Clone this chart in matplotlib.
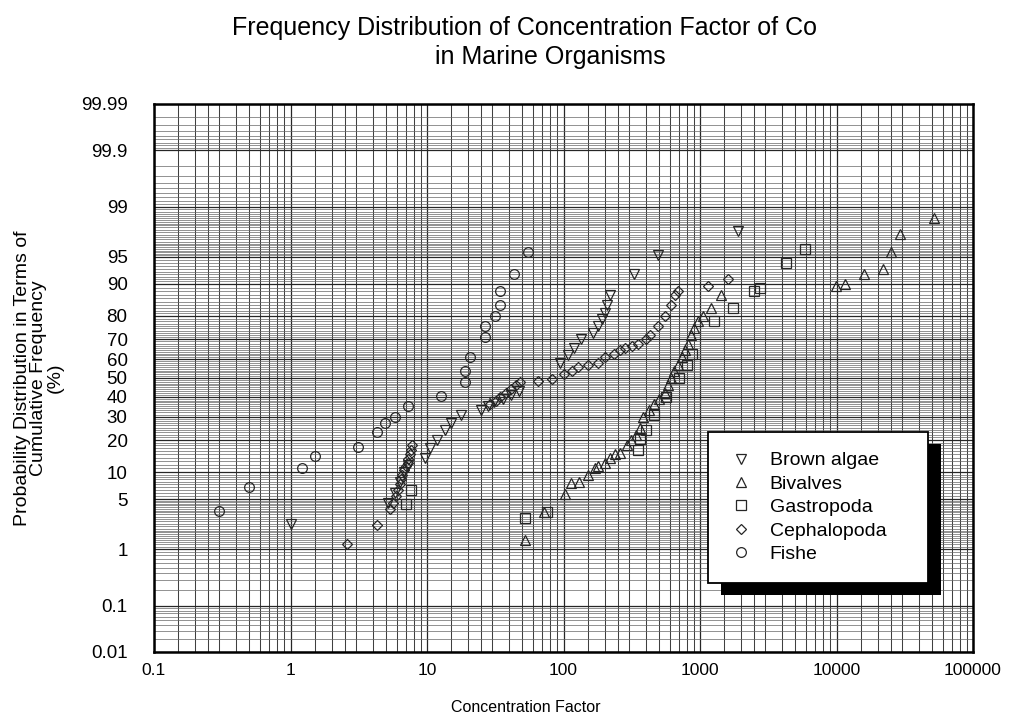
import math

import matplotlib
matplotlib.use('Agg')
import matplotlib.pyplot as plt
import numpy as np
from matplotlib.patches import Rectangle
from matplotlib.ticker import FixedLocator, NullFormatter

plt.rcParams['font.family'] = ['Liberation Sans', 'DejaVu Sans']

# concentration factor / cumulative frequency (%)
brown_cf = [1.0, 5.2, 5.8, 6.3, 6.8, 7.2, 9.6, 10.5, 11.9, 13.5, 15, 17.6,
            25, 28, 31, 36, 41, 47, 95, 107, 120, 135, 165, 178, 190, 200,
            210, 220, 330, 490, 1900]
brown_p = [2.4, 4.5, 6, 8, 10, 12, 14, 17, 20, 24, 27, 31,
           33, 35, 37, 39, 41, 43, 58, 62, 66, 70, 73, 76, 79, 81,
           84, 87, 92, 95.3, 97.7]

bivalve_cf = [52, 72, 103, 113, 130, 150, 170, 178, 200, 220, 240, 260, 290,
              310, 340, 365, 385, 420, 460, 500, 550, 580, 610, 650, 690, 740,
              780, 820, 860, 910, 960, 1050, 1200, 1420,
              9900, 11600, 16000, 22000, 25000, 29000, 52000]
bivalve_p = [1.4, 3.4, 5.7, 7.8, 8, 9.5, 11, 11.5, 12.5, 14, 15, 15.5, 18,
             20, 22, 25, 30, 33, 36, 39, 42, 46, 50, 54, 57, 61,
             65, 68, 72, 75, 78, 80, 83, 87,
             89.5, 90, 92, 93, 95.6, 97.5, 98.5]

gastro_cf = [7.0, 7.6, 52, 76, 350, 365, 400, 460, 560, 700, 800, 880,
             1270, 1740, 2500, 2750, 4300, 5900]
gastro_p = [4.3, 6.5, 2.9, 3.4, 16.5, 20.5, 24, 31, 40, 50, 57, 63,
            78, 83, 88, 89, 94, 96]

cephalo_cf = [2.6, 4.3, 5.4, 5.6, 5.9, 6.1, 6.3, 6.5, 6.6, 6.8, 7.0, 7.2, 7.3,
              7.5, 7.6, 7.8, 29, 32, 34, 38, 41, 45, 48, 65, 83, 101, 115,
              127, 150, 178, 200, 235, 260, 280, 320, 350, 400, 430, 490,
              550, 610, 660, 690, 1140, 1600]
cephalo_p = [1.2, 2.3, 3.8, 4.5, 5.5, 6.5, 7.5, 8.5, 9.5, 10.5, 11.5, 12.5, 13.5,
             15, 16.5, 18, 36, 38, 40, 42, 44, 46, 48, 48.5, 49.5, 52, 54,
             56, 57, 58, 61, 63, 65, 66, 67, 68, 70, 72, 76,
             80, 84, 87, 88, 89.5, 91]

fish_cf = [0.30, 0.50, 1.22, 1.52, 3.1, 4.3, 4.9, 5.8, 7.2, 12.6, 19, 19,
           20.5, 26.4, 26.4, 31.7, 34, 34, 43.6, 54.6]
fish_p = [3.5, 6.9, 11, 14.5, 17.6, 23, 27, 30, 35, 40.5, 48, 54,
          61, 71, 76, 80, 84, 88, 92, 95.6]

y_ticks = [0.01, 0.1, 1, 5, 10, 20, 30, 40, 50, 60, 70, 80, 90, 95, 99, 99.9, 99.99]
y_labels = ['0.01', '0.1', '1', '5', '10', '20', '30', '40', '50', '60', '70',
            '80', '90', '95', '99', '99.9', '99.99']
x_ticks = [0.1, 1, 10, 100, 1000, 10000, 100000]
x_labels = ['0.1', '1', '10', '100', '1000', '10000', '100000']


def probit(p):
    # inverse normal cdf (Acklam), p in percent
    q = np.clip(np.asarray(p, dtype=float) / 100.0, 1e-9, 1 - 1e-9)
    a = [-3.969683028665376e+01, 2.209460984245205e+02, -2.759285104469687e+02,
         1.383577518672690e+02, -3.066479806614716e+01, 2.506628277459239e+00]
    b = [-5.447609879822406e+01, 1.615858368580409e+02, -1.556989798598866e+02,
         6.680131188771972e+01, -1.328068155288572e+01]
    c = [-7.784894002430293e-03, -3.223964580411365e-01, -2.400758277161838e+00,
         -2.549732539343734e+00, 4.374664141464968e+00, 2.938163982698783e+00]
    d = [7.784695709041462e-03, 3.224671290700398e-01, 2.445134137142996e+00,
         3.754408661907416e+00]
    lo = 0.02425
    r = q - 0.5
    s = r * r
    mid = (((((a[0]*s + a[1])*s + a[2])*s + a[3])*s + a[4])*s + a[5]) * r / \
          (((((b[0]*s + b[1])*s + b[2])*s + b[3])*s + b[4])*s + 1)
    t = np.sqrt(-2 * np.log(np.minimum(q, 1 - q)))
    tail = (((((c[0]*t + c[1])*t + c[2])*t + c[3])*t + c[4])*t + c[5]) / \
           ((((d[0]*t + d[1])*t + d[2])*t + d[3])*t + 1)
    tail = np.where(q < 0.5, tail, -tail)
    return np.where((q > lo) & (q < 1 - lo), mid, tail)


_erf = np.vectorize(math.erf)


def inv_probit(z):
    return 50.0 * (1 + _erf(np.asarray(z, dtype=float) / math.sqrt(2)))


def grid_levels():
    lv = []
    lv += list(np.arange(0.01, 0.1, 0.01))
    lv += list(np.arange(0.1, 1, 0.1))
    lv += list(np.arange(1, 2, 0.1))
    lv += list(np.arange(2, 5, 0.2))
    lv += list(np.arange(5, 10, 0.5))
    lv += list(np.arange(10, 90, 1))
    lv += list(np.arange(90, 95, 0.5))
    lv += list(np.arange(95, 98, 0.2))
    lv += list(np.arange(98, 99.9, 0.1))
    lv += list(np.arange(99.9, 99.99, 0.01))
    return lv


def main():
    fig = plt.figure(figsize=(10.09, 7.22), dpi=100)
    ax_rect = [154 / 1009, 70 / 722, 819 / 1009, 548 / 722]
    ax = fig.add_axes(ax_rect)

    ax.set_xscale('log')
    ax.set_yscale('function', functions=(probit, inv_probit))
    ax.set_xlim(0.1, 100000)
    ax.set_ylim(0.01, 99.99)

    ax.yaxis.set_major_locator(FixedLocator(y_ticks))
    ax.set_yticklabels(y_labels)
    ax.yaxis.set_minor_locator(FixedLocator(grid_levels()))
    ax.yaxis.set_minor_formatter(NullFormatter())
    ax.xaxis.set_major_locator(FixedLocator(x_ticks))
    ax.set_xticklabels(x_labels)
    minor_x = [m * 10.0 ** e for e in range(-1, 5) for m in
               (1.5, 2, 2.5, 3, 4, 5, 6, 7, 8, 9)]
    ax.xaxis.set_minor_locator(FixedLocator(minor_x))
    ax.xaxis.set_minor_formatter(NullFormatter())
    ax.tick_params(which='both', length=0)
    ax.tick_params(axis='y', labelsize=13.5, pad=19)
    ax.tick_params(axis='x', labelsize=12.5, pad=8)

    ax.grid(which='major', color='0.15', linewidth=0.9)
    ax.grid(which='minor', axis='y', color='0.4', linewidth=0.5)
    ax.grid(which='minor', axis='x', color='0.25', linewidth=0.75)
    ax.set_axisbelow(True)
    for sp in ax.spines.values():
        sp.set_linewidth(1.8)

    style = dict(linestyle='none', markerfacecolor='none',
                 markeredgecolor='0.15', markersize=7, markeredgewidth=0.9)
    ax.plot(brown_cf, brown_p, marker='v', label='Brown algae', **style)
    ax.plot(bivalve_cf, bivalve_p, marker='^', label='Bivalves', **style)
    ax.plot(gastro_cf, gastro_p, marker='s', label='Gastropoda', **style)
    ax.plot(cephalo_cf, cephalo_p, marker='D', label='Cephalopoda',
            **dict(style, markersize=5.5))
    ax.plot(fish_cf, fish_p, marker='o', label='Fishe', **style)

    leg = ax.legend(loc='upper left', bbox_to_anchor=(0.676, 0.1, 0.269, 0.301),
                    mode='expand', fancybox=False, framealpha=1, fontsize=14,
                    edgecolor='black', labelspacing=0.3, handlelength=1.4,
                    handletextpad=0.8, borderpad=1.0, borderaxespad=0)
    leg.get_frame().set_linewidth(1.3)

    fig.text(524 / 1009, 1 - 28 / 722,
             'Frequency Distribution of Concentration Factor of Co',
             ha='center', va='center', fontsize=18)
    fig.text(550 / 1009, 1 - 57 / 722, 'in Marine Organisms',
             ha='center', va='center', fontsize=18)
    fig.text(526 / 1009, 1 - 708 / 722, 'Concentration Factor',
             ha='center', va='center', fontsize=11.5)
    fig.text(39 / 1009, 1 - 378 / 722,
             'Probability Distribution in Terms of\nCumulative Frequency\n(%)',
             ha='center', va='center', rotation=90, fontsize=14,
             multialignment='center', linespacing=0.95)

    # black drop shadow behind the legend box
    fig.canvas.draw()
    bb = leg.get_window_extent().transformed(ax.transAxes.inverted())
    dx = 13 / (ax_rect[2] * 1009)
    dy = 12 / (ax_rect[3] * 722)
    ax.add_patch(Rectangle((bb.x0 + dx, bb.y0 - dy), bb.width, bb.height,
                           transform=ax.transAxes, facecolor='black',
                           edgecolor='none', zorder=4.9, clip_on=False))

    fig.savefig('out.png', dpi=100)


if __name__ == '__main__':
    main()
